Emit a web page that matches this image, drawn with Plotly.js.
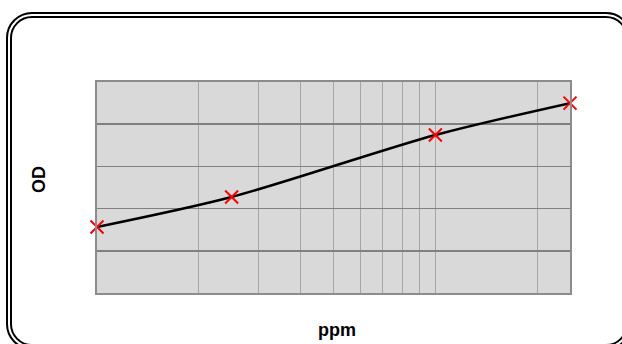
<!DOCTYPE html>
<html>
<head>
<meta charset="utf-8">
<script src="https://cdn.plot.ly/plotly-3.0.1.min.js"></script>
<style>
html,body{margin:0;padding:0;background:#fff;overflow:hidden;}
#wrap{position:relative;width:622px;height:344px;overflow:hidden;}
#chart{position:absolute;left:0;top:0;width:622px;height:344px;}
#frame{position:absolute;left:6px;top:12px;width:614px;height:326px;border:6px double #000;border-radius:26px;pointer-events:none;box-sizing:content-box;}
</style>
</head>
<body>
<div id="wrap">
<div id="chart"></div>
<div id="frame"></div>
</div>
<script>
const ppm = [1, 2.5, 10, 25];
const od = [0.313, 0.455, 0.749, 0.900];
const xGridVals = [1, 2, 3, 4, 5, 6, 7, 8, 9, 10, 20];
const xTitle = 'ppm';
const yTitle = 'OD';

const traces = [
  {x: ppm, y: od, type: 'scatter', mode: 'lines',
   line: {color: '#000', width: 2.5, shape: 'spline', smoothing: 0.8},
   hoverinfo: 'skip', showlegend: false},
  {x: ppm, y: od, type: 'scatter', mode: 'markers',
   marker: {symbol: 'x-thin', size: 13, line: {color: '#ff0000', width: 2}},
   showlegend: false, cliponaxis: false}
];

const layout = {
  width: 622, height: 344,
  margin: {l: 97, r: 52, t: 82, b: 51},
  paper_bgcolor: '#ffffff',
  plot_bgcolor: '#d9d9d9',
  showlegend: false,
  xaxis: {
    type: 'log', range: [0, Math.log10(25)],
    tickvals: xGridVals, showticklabels: false, ticks: '',
    showgrid: true, gridcolor: '#a6a6a6', gridwidth: 1,
    showline: true, linecolor: '#8c8c8c', linewidth: 2, mirror: true,
    zeroline: false
  },
  yaxis: {
    range: [0, 1], dtick: 0.2, showticklabels: false, ticks: '',
    showgrid: true, gridcolor: '#808080', gridwidth: 1.5,
    showline: true, linecolor: '#8c8c8c', linewidth: 2, mirror: true,
    zeroline: false
  },
  annotations: [
    {text: '<b>' + yTitle + '</b>', xref: 'paper', yref: 'paper',
     x: (39 - 97) / 473, y: (293 - 180) / 211, showarrow: false, textangle: -90,
     font: {family: 'Liberation Sans, Arial, sans-serif', size: 18, color: '#000'},
     xanchor: 'center', yanchor: 'middle'},
    {text: '<b>' + xTitle + '</b>', xref: 'paper', yref: 'paper',
     x: (337 - 97) / 473, y: (293 - 330) / 211, showarrow: false,
     font: {family: 'Liberation Sans, Arial, sans-serif', size: 18, color: '#000'},
     xanchor: 'center', yanchor: 'middle'}
  ]
};

Plotly.newPlot('chart', traces, layout, {staticPlot: true, displayModeBar: false});
</script>
</body>
</html>
